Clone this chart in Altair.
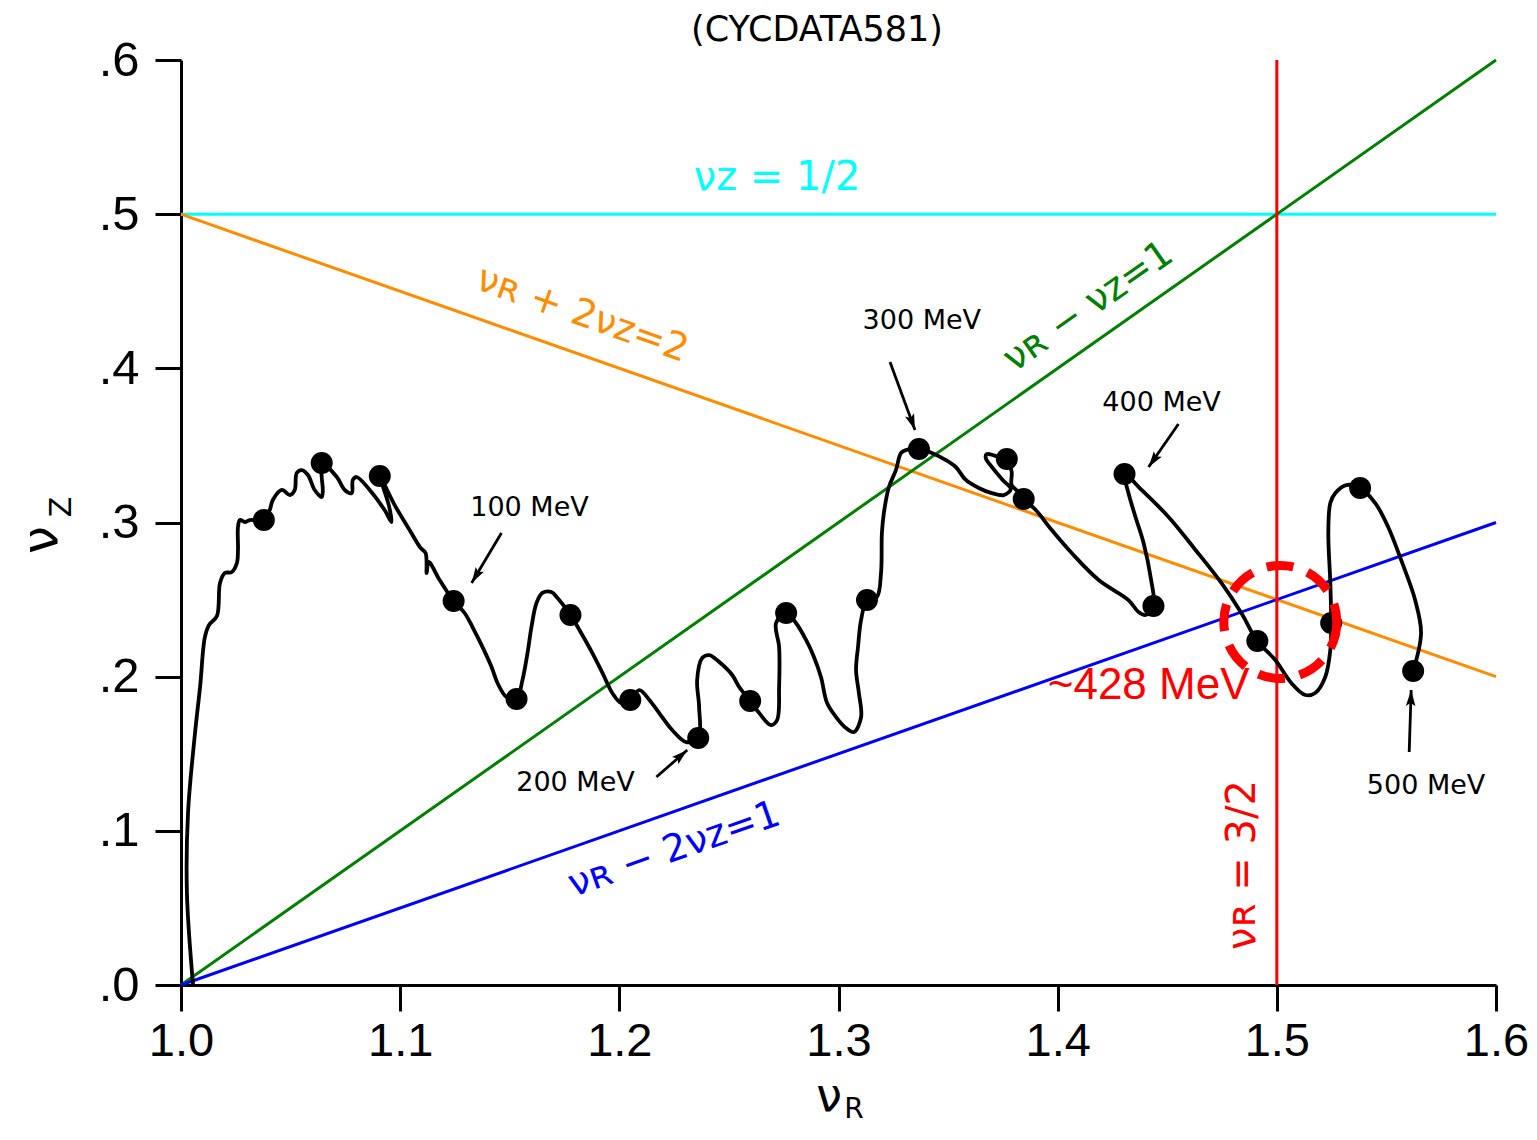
import altair as alt
import pandas as pd

# ---------------- data ----------------
curve_x = [1.0055, 1.0027, 1.0032, 1.0064, 1.0087, 1.0109, 1.0128, 1.0164, 1.0178, 1.0200,
           1.0232, 1.0255, 1.0260, 1.0260, 1.0269, 1.0292, 1.0314, 1.0378, 1.0405, 1.0419,
           1.0460, 1.0497, 1.0519, 1.0528, 1.0551, 1.0579, 1.0610, 1.0642, 1.0647, 1.0642,
           1.0642, 1.0711, 1.0747, 1.0779, 1.0784, 1.0802, 1.0861, 1.0929, 1.0961, 1.0948,
           1.0907, 1.0975, 1.1043, 1.1093, 1.1116, 1.1121, 1.1130, 1.1180, 1.1244, 1.1294,
           1.1330, 1.1376, 1.1417, 1.1444, 1.1485, 1.1531, 1.1558, 1.1581, 1.1599, 1.1622,
           1.1649, 1.1690, 1.1718, 1.1777, 1.1818, 1.1877, 1.1923, 1.1968, 1.2009, 1.2050,
           1.2091, 1.2137, 1.2182, 1.2241, 1.2305, 1.2360, 1.2364, 1.2355, 1.2378, 1.2410,
           1.2456, 1.2515, 1.2547, 1.2597, 1.2638, 1.2692, 1.2720, 1.2729, 1.2729, 1.2715,
           1.2761, 1.2806, 1.2852, 1.2888, 1.2920, 1.2948, 1.2989, 1.3034, 1.3071, 1.3103,
           1.3093, 1.3080, 1.3089, 1.3103, 1.3130, 1.3175, 1.3194, 1.3198, 1.3207, 1.3230,
           1.3262, 1.3285, 1.3308, 1.3367, 1.3426, 1.3490, 1.3535, 1.3581, 1.3640, 1.3699,
           1.3754, 1.3786, 1.3749, 1.3704, 1.3672, 1.3676, 1.3718, 1.3768, 1.3790, 1.3790,
           1.3822, 1.3845, 1.3900, 1.3973, 1.4064, 1.4187, 1.4323, 1.4369, 1.4401, 1.4437,
           1.4424, 1.4392, 1.4355, 1.4323, 1.4305, 1.4383, 1.4506, 1.4629, 1.4747, 1.4838,
           1.4911, 1.4993, 1.5066, 1.5130, 1.5175, 1.5221, 1.5244, 1.5248, 1.5244, 1.5235,
           1.5244, 1.5267, 1.5317, 1.5380, 1.5449, 1.5508, 1.5567, 1.5631, 1.5658, 1.5622]
curve_y = [0.0000, 0.0597, 0.1116, 0.1635, 0.1933, 0.2257, 0.2335, 0.2393, 0.2608, 0.2672,
           0.2679, 0.2737, 0.2822, 0.2971, 0.3016, 0.3003, 0.3016, 0.3016, 0.3081, 0.3146,
           0.3211, 0.3178, 0.3211, 0.3321, 0.3340, 0.3308, 0.3211, 0.3165, 0.3211, 0.3295,
           0.3386, 0.3295, 0.3211, 0.3191, 0.3276, 0.3295, 0.3211, 0.3081, 0.3003, 0.3113,
           0.3302, 0.3113, 0.2951, 0.2835, 0.2802, 0.2672, 0.2744, 0.2627, 0.2491, 0.2413,
           0.2322, 0.2192, 0.2063, 0.1959, 0.1868, 0.1855, 0.1978, 0.2153, 0.2322, 0.2478,
           0.2543, 0.2549, 0.2510, 0.2400, 0.2303, 0.2153, 0.2024, 0.1894, 0.1829, 0.1849,
           0.1913, 0.1849, 0.1764, 0.1654, 0.1576, 0.1602, 0.1803, 0.1978, 0.2121, 0.2140,
           0.2095, 0.2011, 0.1933, 0.1842, 0.1764, 0.1686, 0.1719, 0.1933, 0.2192, 0.2348,
           0.2413, 0.2348, 0.2238, 0.2128, 0.1998, 0.1829, 0.1738, 0.1667, 0.1641, 0.1738,
           0.1894, 0.2043, 0.2192, 0.2368, 0.2497, 0.2517, 0.2672, 0.2932, 0.3062, 0.3230,
           0.3340, 0.3451, 0.3470, 0.3477, 0.3451, 0.3405, 0.3360, 0.3276, 0.3224, 0.3191,
           0.3178, 0.3217, 0.3276, 0.3353, 0.3418, 0.3444, 0.3431, 0.3412, 0.3328, 0.3243,
           0.3198, 0.3152, 0.3081, 0.2951, 0.2802, 0.2627, 0.2497, 0.2419, 0.2400, 0.2458,
           0.2646, 0.2867, 0.3036, 0.3191, 0.3315, 0.3211, 0.3036, 0.2822, 0.2608, 0.2413,
           0.2231, 0.2108, 0.1959, 0.1881, 0.1894, 0.1998, 0.2173, 0.2348, 0.2608, 0.2932,
           0.3126, 0.3191, 0.3243, 0.3224, 0.3126, 0.2971, 0.2757, 0.2497, 0.2283, 0.2037]

dot_x = [1.0378, 1.0642, 1.0907, 1.1244, 1.1531, 1.1777, 1.2050, 1.2360, 1.2597, 1.2761,
         1.3130, 1.3367, 1.3768, 1.3845, 1.4305, 1.4437, 1.4911, 1.5248, 1.5380, 1.5622]
dot_y = [0.3016, 0.3386, 0.3302, 0.2491, 0.1855, 0.2400, 0.1849, 0.1602, 0.1842, 0.2413,
         0.2497, 0.3477, 0.3412, 0.3152, 0.3315, 0.2458, 0.2231, 0.2348, 0.3224, 0.2037]

# resonance lines (endpoints)
res_name = ["nuz_half", "sum", "diff1", "diff2", "nur_3half"]
res_x1 = [1.0, 1.0, 1.0, 1.0, 1.5]
res_y1 = [0.5, 0.5, 0.0, 0.0, 0.0]
res_x2 = [1.6, 1.6, 1.6, 1.6, 1.5]
res_y2 = [0.5, 0.2, 0.6, 0.3, 0.6]
res_color = ["#00FFFF", "#FF8C00", "#008000", "#0000FF", "#FF0000"]

# equation labels
eq_text = ["νᴢ  =  1/2", "νʀ  +  2νᴢ=2", "νʀ  −  νᴢ=1", "νʀ  −  2νᴢ=1", "νʀ  =  3/2"]
eq_x = [1.2720, 1.1831, 1.4141, 1.2251, 1.4847]
eq_y = [0.5234, 0.4346, 0.4398, 0.0876, 0.0778]
eq_angle = [0, 19.4, 324.9, 340.7, 270]
eq_color = ["#00FFFF", "#FF8C00", "#008000", "#0000FF", "#FF0000"]
eq_size = [40, 38, 38, 38, 40]

# energy labels and arrows
mev_text = ["100  MeV", "200  MeV", "300  MeV", "400  MeV", "500  MeV"]
mev_x = [1.1590, 1.1800, 1.3380, 1.4474, 1.5681]
mev_y = [0.3094, 0.1310, 0.4307, 0.3775, 0.1291]
arr_x1 = [1.1462, 1.2169, 1.3235, 1.4551, 1.5604]
arr_y1 = [0.2932, 0.1349, 0.4041, 0.3639, 0.1511]
arr_x2 = [1.1326, 1.2310, 1.3349, 1.4415, 1.5613]
arr_y2 = [0.2607, 0.1524, 0.3600, 0.3360, 0.1913]
arr_angle = [211, 49, 160, 215, 2]

# highlighted region
circ_x = [1.5016]
circ_y = [0.2355]
hl_text = ["~428 MeV"]
hl_x = [1.4415]
hl_y = [0.1939]

title_text = ["(CYCDATA581)"]
title_x = [1.2902]
title_y = [0.6194]

xtitle_text = ["ν", "R"]
xtitle_x = [1.2957, 1.3071]
xtitle_y = [-0.0726, -0.0811]
xtitle_size = [46, 28]
ytitle_text = ["ν", "Z"]
ytitle_x = [0.9367, 0.9458]
ytitle_y = [0.2886, 0.3100]
ytitle_size = [50, 30]

x_ticks = [1.0, 1.1, 1.2, 1.3, 1.4, 1.5, 1.6]
y_ticks = [0.0, 0.1, 0.2, 0.3, 0.4, 0.5, 0.6]

# ---------------- chart ----------------
xs = alt.Scale(domain=[1.0, 1.6], nice=False, zero=False)
ys = alt.Scale(domain=[0.0, 0.6], nice=False, zero=False)

x_axis = alt.Axis(values=x_ticks, format=".1f", labelPadding=7, labelFlush=False,
                  labelOverlap=False, title=None, labelFontSize=47)
y_axis = alt.Axis(values=y_ticks, labelExpr="replace(format(datum.value, '.1f'), '0.', '.')",
                  labelPadding=16, labelFlush=False, labelOverlap=False, title=None,
                  labelFontSize=49)

def X(f="x"):
    return alt.X(f"{f}:Q", scale=xs, axis=x_axis, title=None)

def Y(f="y"):
    return alt.Y(f"{f}:Q", scale=ys, axis=y_axis, title=None)

res_df = pd.DataFrame({"name": res_name, "x": res_x1, "y": res_y1,
                       "x2": res_x2, "y2": res_y2, "c": res_color})
res = alt.Chart(res_df).mark_rule(strokeWidth=3).encode(
    x=X(), y=Y(), x2="x2:Q", y2="y2:Q", color=alt.Color("c:N", scale=None))

curve_df = pd.DataFrame({"x": curve_x, "y": curve_y, "i": list(range(len(curve_x)))})
curve = alt.Chart(curve_df).mark_line(color="black", strokeWidth=3.8,
                                      interpolate="catmull-rom").encode(
    x=X(), y=Y(), order="i:Q")

dots_df = pd.DataFrame({"x": dot_x, "y": dot_y})
dots = alt.Chart(dots_df).mark_circle(size=484, color="black", opacity=1).encode(x=X(), y=Y())

arr_df = pd.DataFrame({"x": arr_x1, "y": arr_y1, "x2": arr_x2, "y2": arr_y2, "a": arr_angle})
shafts = alt.Chart(arr_df).mark_rule(color="black", strokeWidth=2.8).encode(
    x=X(), y=Y(), x2="x2:Q", y2="y2:Q")
heads = alt.Chart(arr_df).mark_point(
    shape="M0,0 L0.6,2 L0,1.6 L-0.6,2 Z", filled=True, color="black", opacity=1, size=256
).encode(x=X("x2"), y=Y("y2"), angle=alt.Angle("a:Q", scale=None))

mev_df = pd.DataFrame({"t": mev_text, "x": mev_x, "y": mev_y})
mev = alt.Chart(mev_df).mark_text(font="DejaVu Sans", fontSize=27, color="black",
                                  align="center", baseline="middle").encode(
    x=X(), y=Y(), text="t:N")

eq_df = pd.DataFrame({"t": eq_text, "x": eq_x, "y": eq_y, "a": eq_angle,
                      "c": eq_color, "s": eq_size})
eqs = alt.Chart(eq_df).mark_text(font="DejaVu Sans", align="center", baseline="middle").encode(
    x=X(), y=Y(), text="t:N", angle=alt.Angle("a:Q", scale=None),
    color=alt.Color("c:N", scale=None), size=alt.Size("s:Q", scale=None))

circ_df = pd.DataFrame({"x": circ_x, "y": circ_y})
circ = alt.Chart(circ_df).mark_point(shape="circle", filled=False, stroke="#FF0000",
                                     strokeWidth=9, strokeDash=[27, 15], size=12769,
                                     opacity=1).encode(x=X(), y=Y())

hl_df = pd.DataFrame({"t": hl_text, "x": hl_x, "y": hl_y})
hl = alt.Chart(hl_df).mark_text(font="Liberation Sans", fontSize=44, color="#FF0000",
                                align="center", baseline="middle").encode(
    x=X(), y=Y(), text="t:N")

title_df = pd.DataFrame({"t": title_text, "x": title_x, "y": title_y})
title = alt.Chart(title_df).mark_text(font="DejaVu Sans", fontSize=35, color="black",
                                      align="center", baseline="middle").encode(
    x=X(), y=Y(), text="t:N")

xt_df = pd.DataFrame({"t": xtitle_text, "x": xtitle_x, "y": xtitle_y, "s": xtitle_size})
xt = alt.Chart(xt_df).mark_text(font="DejaVu Sans", color="black", align="center",
                                baseline="middle").encode(
    x=X(), y=Y(), text="t:N", size=alt.Size("s:Q", scale=None))

yt_df = pd.DataFrame({"t": ytitle_text, "x": ytitle_x, "y": ytitle_y, "s": ytitle_size})
yt = alt.Chart(yt_df).mark_text(font="DejaVu Sans", color="black", align="center",
                                baseline="middle", angle=270).encode(
    x=X(), y=Y(), text="t:N", size=alt.Size("s:Q", scale=None))

chart = alt.layer(res, curve, dots, shafts, heads, mev, eqs, circ, hl, title, xt, yt).properties(
    width=1315, height=925,
    autosize=alt.AutoSizeParams(type="none"),
    padding={"left": 173, "top": 52, "right": 33, "bottom": 140},
).configure_view(stroke=None).configure_axis(
    domainColor="black", domainWidth=3, tickColor="black", tickWidth=3, tickSize=26,
    grid=False, labelFont="Liberation Sans", labelColor="black",
)

chart.save("out.html", embed_options={"renderer": "svg", "actions": False})
